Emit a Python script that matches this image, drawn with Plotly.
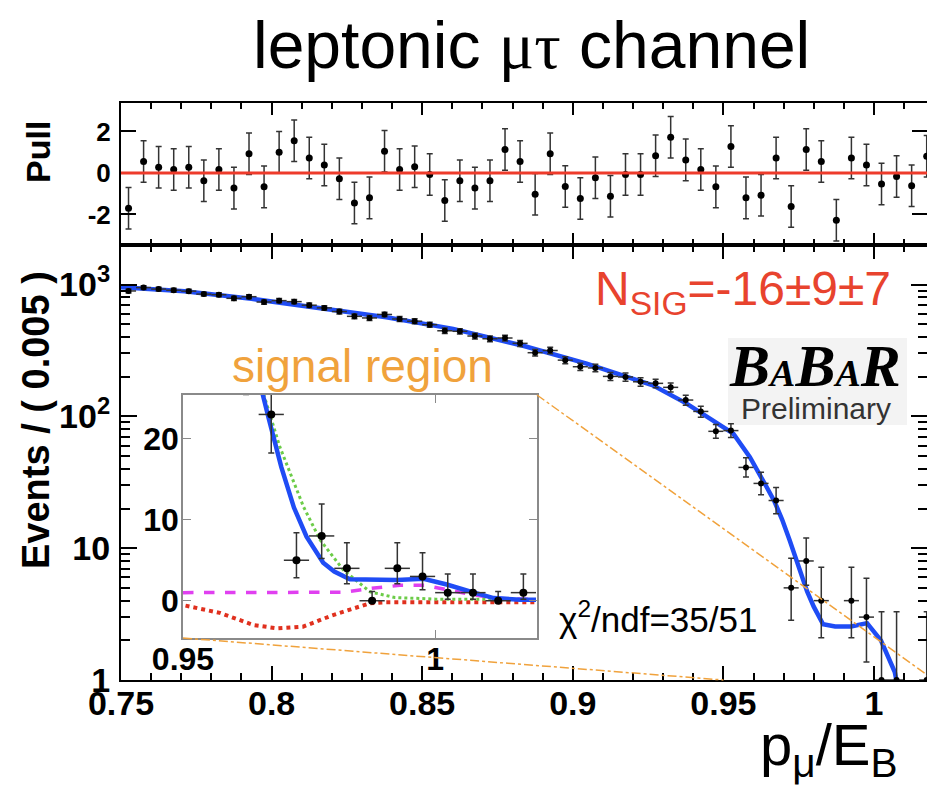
import numpy as np
import plotly.graph_objects as go

# ---------------- data ----------------
bin_width = 0.005
bin_centers = [round(0.7525 + bin_width * i, 4) for i in range(54)]
counts = [894, 948, 924, 906, 891, 846, 837, 786, 809, 737,
          755, 742, 697, 665, 624, 574, 558, 593, 548, 527,
          496, 446, 442, 407, 388, 393, 358, 304, 316, 267,
          238, 233, 201, 199, 183, 178, 166, 133, 109, 77,
          78, 41, 31, 23, 5, 8, 4, 0, 4, 3,
          1, 1, 0, 1]
pulls = [-1.7, 0.55, 0.27, 0.17, 0.27, -0.37, 0.17, -0.73, 0.92, -0.67,
         1.0, 1.55, 0.72, 0.38, -0.28, -1.45, -1.2, 1.05, 0.17, 0.3,
         -0.07, -1.33, -0.37, -0.73, -0.37, 1.13, 0.55, -1.03, 0.92, -0.65,
         -1.23, -0.23, -1.12, -0.07, -0.07, 0.83, 1.72, 0.63, 0.17, -0.67,
         1.27, -1.2, -1.07, 0.72, -1.62, 1.13, 0.55, -2.28, 0.72, 0.38,
         -0.53, -0.17, -0.62, 0.8]
pull_err = [1.0] * 54

# Poisson (asymmetric) errors for small counts
poisson_small = {0: (0.0, 1.15), 1: (0.83, 2.30), 3: (1.63, 2.92), 4: (1.91, 3.16),
                 5: (2.16, 3.38), 8: (2.77, 3.95), 23: (4.77, 5.86), 31: (5.55, 6.63),
                 41: (6.38, 7.45), 77: (8.77, 9.82), 78: (8.83, 9.88)}
err_lo = [poisson_small[c][0] if c in poisson_small else float(np.sqrt(c)) for c in counts]
err_hi = [poisson_small[c][1] if c in poisson_small else float(np.sqrt(c)) for c in counts]

# total fit curve
fit_x = [0.75, 0.7711, 0.7933, 0.8176, 0.8381, 0.8603, 0.8835, 0.9046, 0.9266, 0.9378,
         0.9422, 0.9475, 0.9533, 0.9588, 0.9620, 0.9644, 0.9670, 0.9695, 0.9720, 0.9745,
         0.9778, 0.9800, 0.9831, 0.9871, 0.9924, 0.9977, 1.0023, 1.0069, 1.0116, 1.0169, 1.0200]
fit_y = [955, 889, 780, 655, 565, 461, 343, 251, 172, 125,
         108, 90, 74, 49, 37, 29, 22.5, 16.5, 11.5, 7.9,
         4.7, 3.6, 2.65, 2.55, 2.55, 2.7, 2.0, 1.15, 0.33, 0.12, 0.12]

# inset components
bkg_x = [0.9660, 0.9692, 0.9739, 0.9772, 0.9818, 0.9871, 0.9920, 1.0000, 1.0200]
bkg_y = [25.5, 19.0, 11.6, 7.5, 3.8, 1.1, 0.4, 0.2, 0.15]
peak_x = [0.9500, 0.9820, 0.9870, 0.9930, 0.9980, 1.0020, 1.0070, 1.0120, 1.0200]
peak_y = [1.0, 1.05, 1.5, 1.9, 1.9, 1.4, 0.8, 0.3, 0.15]
sig_x = [0.9505, 0.9573, 0.9640, 0.9686, 0.9738, 0.9792, 0.9831, 0.9871, 0.9900, 1.0200]
sig_y = [-0.6, -1.5, -3.0, -3.4, -3.2, -1.9, -1.1, -0.3, -0.2, -0.2]

x_range = [0.75, 1.0176]
x_ticks = [0.75, 0.8, 0.85, 0.9, 0.95, 1.0]
x_ticktext = ["0.75", "0.8", "0.85", "0.9", "0.95", "1"]
pull_ticks = [-2, 0, 2]
log_ticks = [1, 10, 100, 1000]
log_ticktext = ["1", "10", "10<sup>2</sup>", "10<sup>3</sup>"]
log_minor = [m * 10 ** d for d in range(0, 4) for m in range(2, 10)]
inset_xrange = [0.95, 1.0202]
inset_yrange = [-4.6, 25.4]
signal_region = [0.95, 1.02]

# ---------------- layout geometry ----------------
W, H = 927, 787
dom_x = [121 / W, 1.0]
pull_dom_y = [(H - 245) / H, (H - 103) / H]
main_dom_y = [(H - 680) / H, (H - 245) / H]
ins_dom_x = [183 / W, 537 / W]
ins_dom_y = [(H - 638) / H, (H - 395) / H]

SANS = "Liberation Sans, Arial, Helvetica, sans-serif"
BLUE = "#1f4cf5"
ORANGE = "#f0a23c"
RED = "#e8432e"
ERRC = "#333333"

fig = go.Figure()

# pull panel
fig.add_trace(go.Scatter(x=bin_centers, y=pulls, mode="markers",
                         marker=dict(color="black", size=7),
                         error_y=dict(type="data", array=pull_err, color=ERRC, thickness=1.5, width=3),
                         xaxis="x", yaxis="y", showlegend=False))

# main panel
fig.add_trace(go.Scatter(x=fit_x, y=fit_y, mode="lines", line=dict(color=BLUE, width=4.5),
                         xaxis="x2", yaxis="y2", showlegend=False))
fig.add_trace(go.Scatter(x=bin_centers, y=counts, mode="markers",
                         marker=dict(color="black", size=6),
                         error_y=dict(type="data", symmetric=False, array=err_hi, arrayminus=err_lo,
                                      color=ERRC, thickness=1.5, width=3),
                         error_x=dict(type="constant", value=bin_width / 2, color=ERRC, thickness=1.5, width=0),
                         xaxis="x2", yaxis="y2", showlegend=False))

# inset
fig.add_trace(go.Scatter(x=sig_x, y=sig_y, mode="lines", line=dict(color="#e0301e", width=4, dash="dot"),
                         xaxis="x3", yaxis="y3", showlegend=False))
fig.add_trace(go.Scatter(x=peak_x, y=peak_y, mode="lines", line=dict(color="#e040f0", width=3.5, dash="dash"),
                         xaxis="x3", yaxis="y3", showlegend=False))
fig.add_trace(go.Scatter(x=bkg_x, y=bkg_y, mode="lines", line=dict(color="#6ccc48", width=3, dash="dot"),
                         xaxis="x3", yaxis="y3", showlegend=False))
fig.add_trace(go.Scatter(x=fit_x, y=fit_y, mode="lines", line=dict(color=BLUE, width=4.5),
                         xaxis="x3", yaxis="y3", showlegend=False))
fig.add_trace(go.Scatter(x=bin_centers, y=counts, mode="markers",
                         marker=dict(color="black", size=8),
                         error_y=dict(type="data", symmetric=False, array=err_hi, arrayminus=err_lo,
                                      color=ERRC, thickness=1.5, width=3),
                         error_x=dict(type="constant", value=bin_width / 2, color=ERRC, thickness=1.5, width=0),
                         xaxis="x3", yaxis="y3", showlegend=False))

tickfont = dict(family=SANS, size=34, color="black", weight="bold")
axis_common = dict(showline=True, linecolor="black", linewidth=2, mirror="ticks", ticks="inside",
                   showgrid=False, zeroline=False, tickcolor="black", automargin=False)
inset_common = dict(ticks="inside", ticklen=8, mirror="ticks", showline=True, automargin=False,
                    linecolor="#8a8a8a", linewidth=1.5, tickcolor="#8a8a8a", showgrid=False, zeroline=False,
                    tickfont=dict(family=SANS, size=32, color="black", weight="bold"))

fig.update_layout(
    width=W, height=H, margin=dict(l=0, r=0, t=0, b=0, autoexpand=False),
    paper_bgcolor="white", plot_bgcolor="white", showlegend=False,
    xaxis=dict(domain=dom_x, range=x_range, anchor="y", tickvals=x_ticks, showticklabels=False,
               ticklen=12, tickwidth=1.5, minor=dict(dtick=0.01, tick0=0.75, ticklen=6, ticks="inside", tickcolor="black"),
               **axis_common),
    yaxis=dict(domain=pull_dom_y, range=[-3.47, 3.37], anchor="x", tickvals=pull_ticks,
               ticktext=["-2", "0", "2"], ticklen=15, tickwidth=1.5, ticklabelstandoff=3,
               tickfont=dict(family=SANS, size=26, color="black", weight="bold"), **axis_common),
    xaxis2=dict(domain=dom_x, range=x_range, anchor="y2", tickvals=x_ticks, ticktext=x_ticktext,
                ticklen=14, tickwidth=1.5, tickfont=tickfont, ticklabelstandoff=-8,
                minor=dict(dtick=0.01, tick0=0.75, ticklen=7, ticks="inside", tickcolor="black"),
                **axis_common),
    yaxis2=dict(domain=main_dom_y, type="log", range=[0, 3.3], anchor="x2", tickvals=log_ticks,
                ticktext=log_ticktext, ticklen=16, tickwidth=1.5, tickfont=tickfont, ticklabelstandoff=2,
                minor=dict(tickmode="array", tickvals=log_minor, ticklen=9, ticks="inside", tickcolor="black"),
                **axis_common),
    xaxis3=dict(domain=ins_dom_x, range=inset_xrange, anchor="y3", tickvals=[0.95, 1.0],
                ticktext=["0.95", "1"], ticklabelstandoff=-8, **inset_common),
    yaxis3=dict(domain=ins_dom_y, range=inset_yrange, anchor="x3", tickvals=[0, 10, 20],
                ticklabelstandoff=-4, **inset_common),
)


def main_x_to_paper(v):
    return dom_x[0] + (v - x_range[0]) / (x_range[1] - x_range[0]) * (dom_x[1] - dom_x[0])


shapes = [
    # pull zero line
    dict(type="line", xref="x domain", yref="y", x0=0, x1=1, y0=0, y1=0,
         line=dict(color="#ee3b2b", width=3)),
    # inset zero line
    dict(type="line", xref="x3 domain", yref="y3", x0=0, x1=1, y0=0, y1=0,
         line=dict(color="black", width=1.5), layer="below"),
    # zoom connector lines
    dict(type="line", xref="paper", yref="paper", x0=ins_dom_x[1], y0=ins_dom_y[1],
         x1=main_x_to_paper(signal_region[1]), y1=main_dom_y[0],
         line=dict(color=ORANGE, width=1.5, dash="dashdot")),
    dict(type="line", xref="paper", yref="paper", x0=ins_dom_x[0], y0=ins_dom_y[0],
         x1=main_x_to_paper(signal_region[0]), y1=main_dom_y[0],
         line=dict(color=ORANGE, width=1.5, dash="dashdot")),
    # BaBar logo background
    dict(type="rect", xref="paper", yref="paper", x0=728 / W, x1=907 / W, y0=(H - 425) / H, y1=(H - 338) / H,
         fillcolor="#f3f3f3", line=dict(width=0), layer="below"),
]
fig.update_layout(shapes=shapes)

ann = [
    dict(text='leptonic <span style="font-family:Liberation Serif">μτ</span> channel',
         x=531 / W, y=(H - 45) / H, font=dict(family=SANS, size=66, color="black")),
    dict(text="<b>Pull</b>", x=38 / W, y=(H - 152) / H, textangle=-90,
         font=dict(family=SANS, size=34, color="black")),
    dict(text="<b>Events / ( 0.005 )</b>", x=36 / W, y=(H - 420) / H, textangle=-90,
         font=dict(family=SANS, size=38, color="black")),
    dict(text="p<sub>μ</sub>/E<sub>B</sub>", x=900 / W, y=(H - 749) / H, xanchor="right",
         font=dict(family=SANS, size=58, color="black")),
    dict(text="N<sub>SIG</sub>=-16±9±7", x=893 / W, y=(H - 292) / H, xanchor="right",
         font=dict(family=SANS, size=48, color=RED)),
    dict(text="signal region", x=362 / W, y=(H - 366) / H,
         font=dict(family=SANS, size=46, color=ORANGE)),
    dict(text="χ<sup>2</sup>/ndf=35/51", x=557 / W, y=(H - 617) / H, xanchor="left",
         font=dict(family=SANS, size=35, color="black")),
    dict(text='<b><i>B<span style="font-size:38px">A</span>B<span style="font-size:38px">A</span>R</i></b>',
         x=815 / W, y=(H - 366) / H, font=dict(family="Liberation Serif, Times New Roman, serif", size=60, color="black")),
    dict(text="Preliminary", x=816 / W, y=(H - 408) / H,
         font=dict(family=SANS, size=30, color="#333333")),
]
for a in ann:
    a.setdefault("xref", "paper")
    a.setdefault("yref", "paper")
    a.setdefault("showarrow", False)
    a.setdefault("xanchor", "center")
    a.setdefault("yanchor", "middle")
fig.update_layout(annotations=ann)

fig.write_html("out.html")
